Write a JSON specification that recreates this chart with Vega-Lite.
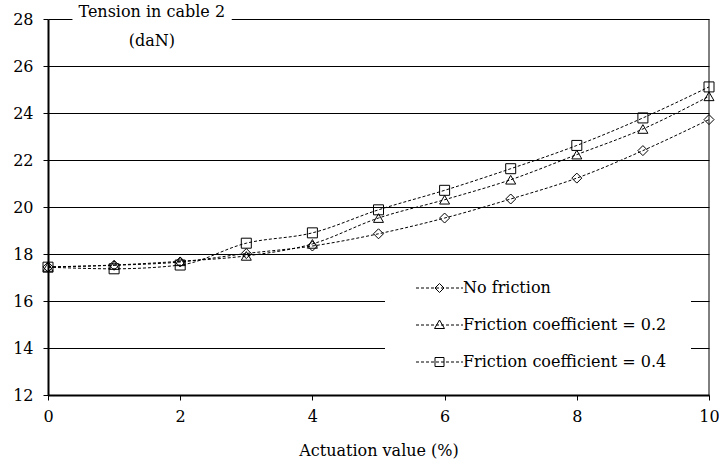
{
  "$schema": "https://vega.github.io/schema/vega-lite/v6.json",
  "width": 661,
  "height": 376,
  "autosize": "none",
  "padding": {"left": 48, "top": 19, "right": 10, "bottom": 70},
  "background": "white",
  "config": {
    "view": {"stroke": null},
    "font": "DejaVu Serif",
    "axis": {
      "labelFont": "DejaVu Serif",
      "labelFontSize": 16,
      "labelColor": "black",
      "labelFlush": false,
      "titleFont": "DejaVu Serif",
      "titleFontSize": 16,
      "titleFontWeight": "normal",
      "titleColor": "black",
      "tickColor": "black",
      "tickSize": 5,
      "tickWidth": 1,
      "domainColor": "black",
      "domainWidth": 2,
      "gridColor": "black",
      "gridWidth": 1,
      "gridOpacity": 1
    }
  },
  "data": {
    "values": [
      {"actuation": 0, "series": "No friction", "tension": 17.45},
      {"actuation": 1, "series": "No friction", "tension": 17.52},
      {"actuation": 2, "series": "No friction", "tension": 17.66},
      {"actuation": 3, "series": "No friction", "tension": 18.02},
      {"actuation": 4, "series": "No friction", "tension": 18.34},
      {"actuation": 5, "series": "No friction", "tension": 18.86},
      {"actuation": 6, "series": "No friction", "tension": 19.53},
      {"actuation": 7, "series": "No friction", "tension": 20.34},
      {"actuation": 8, "series": "No friction", "tension": 21.23},
      {"actuation": 9, "series": "No friction", "tension": 22.4},
      {"actuation": 10, "series": "No friction", "tension": 23.72},
      {"actuation": 0, "series": "Friction coefficient = 0.2", "tension": 17.45},
      {"actuation": 1, "series": "Friction coefficient = 0.2", "tension": 17.53},
      {"actuation": 2, "series": "Friction coefficient = 0.2", "tension": 17.69},
      {"actuation": 3, "series": "Friction coefficient = 0.2", "tension": 17.92},
      {"actuation": 4, "series": "Friction coefficient = 0.2", "tension": 18.43},
      {"actuation": 5, "series": "Friction coefficient = 0.2", "tension": 19.53},
      {"actuation": 6, "series": "Friction coefficient = 0.2", "tension": 20.31},
      {"actuation": 7, "series": "Friction coefficient = 0.2", "tension": 21.16},
      {"actuation": 8, "series": "Friction coefficient = 0.2", "tension": 22.23},
      {"actuation": 9, "series": "Friction coefficient = 0.2", "tension": 23.32},
      {"actuation": 10, "series": "Friction coefficient = 0.2", "tension": 24.71},
      {"actuation": 0, "series": "Friction coefficient = 0.4", "tension": 17.44},
      {"actuation": 1, "series": "Friction coefficient = 0.4", "tension": 17.37},
      {"actuation": 2, "series": "Friction coefficient = 0.4", "tension": 17.53},
      {"actuation": 3, "series": "Friction coefficient = 0.4", "tension": 18.46},
      {"actuation": 4, "series": "Friction coefficient = 0.4", "tension": 18.9},
      {"actuation": 5, "series": "Friction coefficient = 0.4", "tension": 19.88},
      {"actuation": 6, "series": "Friction coefficient = 0.4", "tension": 20.71},
      {"actuation": 7, "series": "Friction coefficient = 0.4", "tension": 21.63},
      {"actuation": 8, "series": "Friction coefficient = 0.4", "tension": 22.62},
      {"actuation": 9, "series": "Friction coefficient = 0.4", "tension": 23.79},
      {"actuation": 10, "series": "Friction coefficient = 0.4", "tension": 25.11}
    ]
  },
  "layer": [
    {
      "mark": {"type": "line", "color": "black", "strokeWidth": 1, "strokeDash": [3, 2], "interpolate": "monotone"},
      "encoding": {
        "x": {
          "field": "actuation",
          "type": "quantitative",
          "scale": {"domain": [0, 10], "nice": false, "zero": false},
          "axis": {"values": [0, 2, 4, 6, 8, 10], "format": "d", "grid": false, "labelPadding": 8, "titlePadding": 18, "title": "Actuation value (%)"}
        },
        "y": {
          "field": "tension",
          "type": "quantitative",
          "scale": {"domain": [12, 28], "nice": false, "zero": false},
          "axis": {"values": [12, 14, 16, 18, 20, 22, 24, 26, 28], "format": "d", "grid": true, "labelPadding": 10, "title": null}
        },
        "detail": {"field": "series", "type": "nominal"}
      }
    },
    {
      "mark": {"type": "point", "filled": false, "color": "black", "strokeWidth": 1, "opacity": 1, "size": 100},
      "encoding": {
        "x": {"field": "actuation", "type": "quantitative"},
        "y": {"field": "tension", "type": "quantitative"},
        "shape": {
          "field": "series",
          "type": "nominal",
          "scale": {
            "domain": ["No friction", "Friction coefficient = 0.2", "Friction coefficient = 0.4"],
            "range": ["diamond", "triangle-up", "square"]
          },
          "legend": null
        }
      }
    },
    {
      "data": {"values": []},
      "mark": {"type": "point", "filled": false, "color": "black", "strokeWidth": 1, "opacity": 1, "size": 4},
      "encoding": {
        "x": {"field": "actuation", "type": "quantitative"},
        "y": {"field": "tension", "type": "quantitative"},
        "shape": {
          "field": "series",
          "type": "nominal",
          "scale": {
            "domain": ["No friction", "Friction coefficient = 0.2", "Friction coefficient = 0.4"],
            "range": [
              "M-1,0H2M4,0H7M9,0H12M14,0H17M19,0H22M24,0H27M29,0H32M34,0H37M39,0H42M44,0H46M22.5,-4.5L27,0L22.5,4.5L18,0Z",
              "M-1,0H2M4,0H7M9,0H12M14,0H17M19,0H22M24,0H27M29,0H32M34,0H37M39,0H42M44,0H46M22.5,-5L27.5,3.5L17.5,3.5Z",
              "M-1,0H2M4,0H7M9,0H12M14,0H17M19,0H22M24,0H27M29,0H32M34,0H37M39,0H42M44,0H46M18,-4.5H27V4.5H18Z"
            ]
          },
          "legend": {
            "orient": "none",
            "legendX": 337,
            "legendY": 237,
            "title": null,
            "fillColor": "white",
            "padding": 24,
            "symbolSize": 4,
            "symbolStrokeWidth": 1,
            "symbolStrokeColor": "black",
            "symbolFillColor": "transparent",
            "labelFont": "DejaVu Serif",
            "labelFontSize": 16,
            "labelColor": "black",
            "labelOffset": 38,
            "rowPadding": 21,
            "labelLimit": 400
          }
        }
      }
    },
    {
      "data": {"values": [{}]},
      "mark": {"type": "rect", "color": "white"},
      "encoding": {
        "x": {"datum": 0.37, "type": "quantitative"},
        "x2": {"datum": 2.78},
        "y": {"datum": 28.25, "type": "quantitative"},
        "y2": {"datum": 27.75}
      }
    },
    {
      "data": {"values": [{}]},
      "mark": {"type": "rule", "color": "black", "strokeWidth": 1},
      "encoding": {
        "x": {"datum": 10, "type": "quantitative"},
        "y": {"datum": 12, "type": "quantitative"},
        "y2": {"datum": 28}
      }
    },
    {
      "data": {"values": [{}]},
      "mark": {
        "type": "text",
        "text": ["Tension in cable 2", "(daN)"],
        "font": "DejaVu Serif",
        "fontSize": 16,
        "color": "black",
        "align": "center",
        "baseline": "top",
        "lineHeight": 29
      },
      "encoding": {
        "x": {"datum": 1.57, "type": "quantitative"},
        "y": {"datum": 28.62, "type": "quantitative"}
      }
    }
  ],
  "resolve": {"scale": {"shape": "independent"}}
}
